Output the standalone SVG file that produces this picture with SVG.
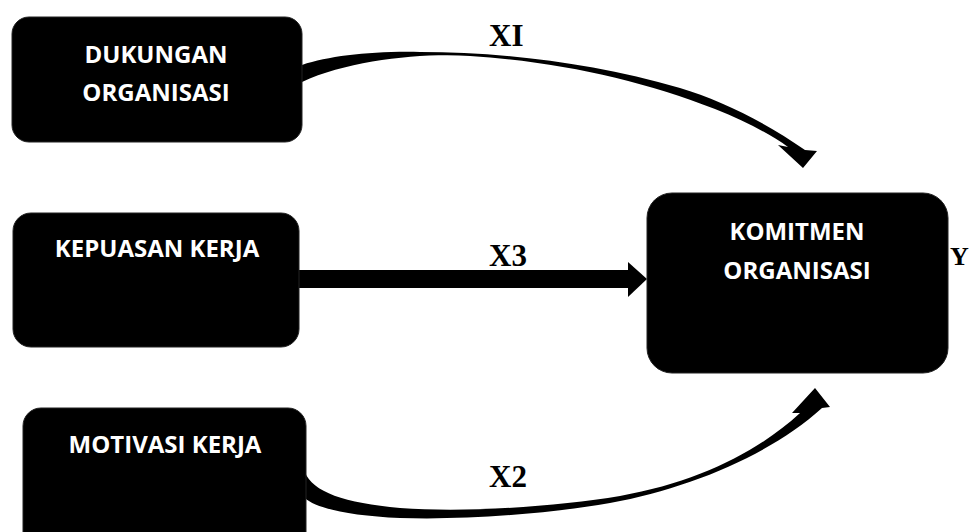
<svg xmlns="http://www.w3.org/2000/svg" width="970" height="532" viewBox="0 0 970 532">
<style>
.box{fill:#000;stroke:#222;stroke-width:1}
.lbl{font-family:"Open Sans","Liberation Sans",sans-serif;font-weight:bold;font-size:24px;fill:#fff;text-anchor:middle}
.var{font-family:"Liberation Serif","Times New Roman",serif;font-weight:bold;font-size:31px;fill:#000}
.conn{fill:#000;stroke:none}
</style>
<rect width="970" height="532" fill="#fff"/>
<g id="connectors">
<path id="c-x1" class="conn" d="M302,65 C330,56 370,51 420,52 C500,52 590,62 680,88 C720,100 765,122 805,150 L817,151 L803,168 L778,145 L788,147 C770,134 745,121 715,109 C640,80 560,62 470,56 C420,53 350,60 302,82 Z"/>
<g id="c-x3" class="conn"><rect x="298" y="270" width="331" height="18"/><polygon points="628,262 647,279 628,297"/></g>
<path id="c-x2" class="conn" d="M305,472 C312,492 345,503 400,508 C470,513 560,506 620,496 C700,482 760,450 800,413 L792,413 L815,388 L830,407 L822,408 C770,455 690,488 610,503 C540,515 460,520 400,518 C350,516 315,508 305,498 Z"/>
<text class="var" x="489" y="46">XI</text>
<text class="var" x="489" y="266">X3</text>
<text class="var" x="489" y="487">X2</text>
</g>
<g id="n-dukungan"><rect class="box" x="12" y="17" width="290" height="125" rx="17"/><text class="lbl" x="156" y="63">DUKUNGAN</text><text class="lbl" x="156" y="101">ORGANISASI</text></g>
<g id="n-kepuasan"><rect class="box" x="13" y="213" width="286" height="134" rx="18"/><text class="lbl" x="157" y="257">KEPUASAN KERJA</text></g>
<g id="n-motivasi"><rect class="box" x="23" y="408" width="283" height="150" rx="18"/><text class="lbl" x="165" y="453">MOTIVASI KERJA</text></g>
<g id="n-komitmen"><rect class="box" x="647" y="193" width="301" height="180" rx="25"/><text class="lbl" x="797" y="240">KOMITMEN</text><text class="lbl" x="797" y="279">ORGANISASI</text></g>
<text class="var" x="950" y="265" style="font-size:26px">Y</text>
</svg>
